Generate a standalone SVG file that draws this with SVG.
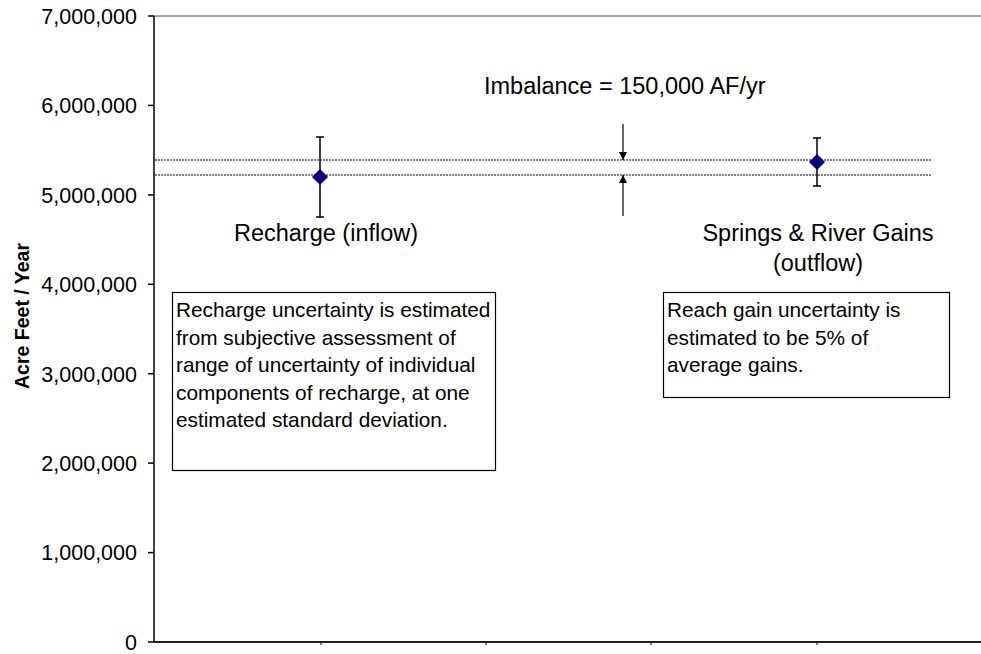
<svg xmlns="http://www.w3.org/2000/svg" width="981" height="654" viewBox="0 0 981 654">
<defs>
<style>
text{font-family:"Liberation Sans",Arial,sans-serif;fill:#000}
.ytl{font-size:21.5px;text-anchor:end}
.lbl{font-size:23.5px}
.box{font-size:20.8px}
.axis{stroke:#000;stroke-width:1.5;fill:none}
.tick{stroke:#000;stroke-width:1.5}
.dot{stroke:#000;stroke-width:1;stroke-dasharray:2,1;fill:none}
.err{stroke:#000;stroke-width:1.5;fill:none}
.pt{fill:#000080}
.nb{fill:#fff;stroke:#000;stroke-width:1.2}
</style>
<marker id="ah" viewBox="0 0 10 10" refX="10" refY="5" markerWidth="8" markerHeight="8" markerUnits="userSpaceOnUse" orient="auto">
<path d="M0,0L10,5L0,10Z" fill="#000"/>
</marker>
</defs>
<rect width="981" height="654" fill="#fff"/>
<g id="axes">
<line x1="154" y1="16" x2="981" y2="16" stroke="#808080" stroke-width="1.5"/>
<line class="axis" x1="154" y1="16" x2="154" y2="642"/>
<line x1="154" y1="642" x2="981" y2="642" stroke="#222" stroke-width="2"/>
<line class="tick" x1="148" y1="16" x2="154" y2="16"/>
<line class="tick" x1="148" y1="105.4" x2="154" y2="105.4"/>
<line class="tick" x1="148" y1="194.9" x2="154" y2="194.9"/>
<line class="tick" x1="148" y1="284.3" x2="154" y2="284.3"/>
<line class="tick" x1="148" y1="373.7" x2="154" y2="373.7"/>
<line class="tick" x1="148" y1="463.1" x2="154" y2="463.1"/>
<line class="tick" x1="148" y1="552.6" x2="154" y2="552.6"/>
<line class="tick" x1="148" y1="642" x2="154" y2="642"/>
<line stroke="#000" stroke-width="1" x1="321" y1="642" x2="321" y2="645"/>
<line stroke="#000" stroke-width="1" x1="486" y1="642" x2="486" y2="645"/>
<line stroke="#000" stroke-width="1" x1="651" y1="642" x2="651" y2="645"/>
<line stroke="#000" stroke-width="1" x1="817" y1="642" x2="817" y2="645"/>
<text class="ytl" x="137" y="23.5">7,000,000</text>
<text class="ytl" x="137" y="113">6,000,000</text>
<text class="ytl" x="137" y="202.5">5,000,000</text>
<text class="ytl" x="137" y="292">4,000,000</text>
<text class="ytl" x="137" y="381.5">3,000,000</text>
<text class="ytl" x="137" y="470.5">2,000,000</text>
<text class="ytl" x="137" y="560">1,000,000</text>
<text class="ytl" x="137" y="649.5">0</text>
<text x="0" y="0" transform="translate(29,316) rotate(-90)" text-anchor="middle" font-size="19.5" font-weight="bold">Acre Feet / Year</text>
</g>
<g id="connectors">
<line class="dot" x1="155" y1="160" x2="931" y2="160"/>
<line class="dot" x1="155" y1="175" x2="931" y2="175"/>
<line stroke="#000" stroke-width="1.2" x1="623" y1="124" x2="623" y2="160" marker-end="url(#ah)"/>
<line stroke="#000" stroke-width="1.2" x1="623" y1="216" x2="623" y2="175" marker-end="url(#ah)"/>
</g>
<g id="imbalance">
<text class="lbl" x="484" y="94">Imbalance = 150,000 AF/yr</text>
</g>
<g id="recharge">
<path class="err" d="M320,137V217M316,137H324M316,217H324"/>
<path class="pt" d="M320,169L328,177L320,185L312,177Z"/>
<text class="lbl" x="326" y="241" text-anchor="middle">Recharge (inflow)</text>
</g>
<g id="springs">
<path class="err" d="M817,138V186M813,138H821M813,186H821"/>
<path class="pt" d="M817,154L825,162L817,170L809,162Z"/>
<text class="lbl" x="818" y="241" text-anchor="middle">Springs &amp; River Gains</text>
<text class="lbl" x="818" y="271" text-anchor="middle">(outflow)</text>
</g>
<g id="note-recharge">
<rect class="nb" x="172.5" y="292.5" width="323" height="178"/>
<text class="box" x="176" y="317">Recharge uncertainty is estimated</text>
<text class="box" x="176" y="344.5">from subjective assessment of</text>
<text class="box" x="176" y="372">range of uncertainty of individual</text>
<text class="box" x="176" y="399.5">components of recharge, at one</text>
<text class="box" x="176" y="427">estimated standard deviation.</text>
</g>
<g id="note-reach">
<rect class="nb" x="663.5" y="292.5" width="286" height="105"/>
<text class="box" x="667" y="317">Reach gain uncertainty is</text>
<text class="box" x="667" y="344.5">estimated to be 5% of</text>
<text class="box" x="667" y="372">average gains.</text>
</g>
</svg>
